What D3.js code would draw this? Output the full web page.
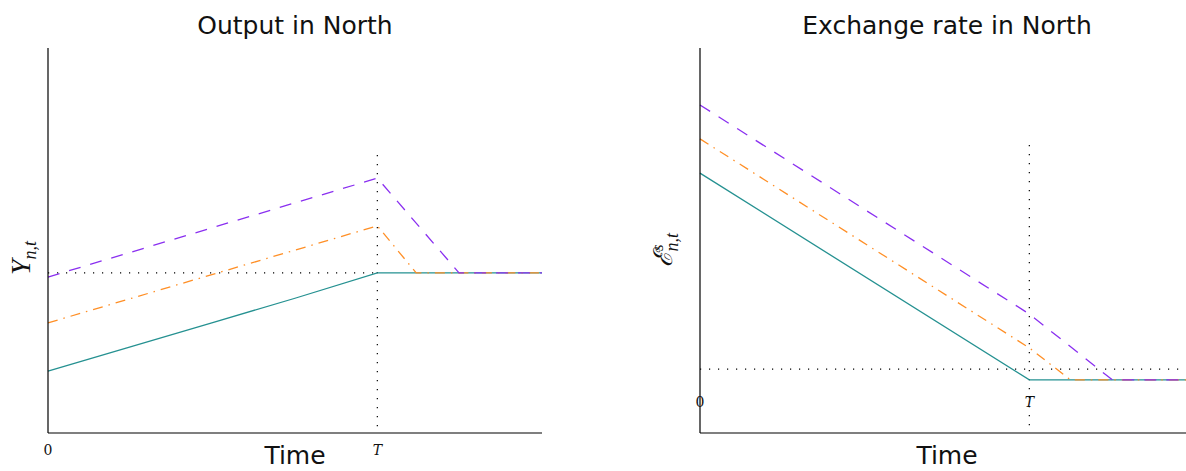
<!DOCTYPE html>
<html>
<head>
<meta charset="utf-8">
<script src="https://cdn.jsdelivr.net/npm/d3@7"></script>
<style>
  body { margin: 0; background: #fff; }
  svg { display: block; }
  .title, .xlab { font-family: 'DejaVu Sans', sans-serif; font-size: 25px; fill: #111; }
  .tick-lab { font-family: 'DejaVu Serif', serif; font-size: 14px; fill: #111; }
  .ylab { font-family: 'Liberation Serif', serif; font-style: italic; fill: #111; }
</style>
</head>
<body>
<script>
// time points (T = 1)
var timeTicks = [0, 1]
var tickLabels = ['0', 'T']

// Output in North
var outSteady = 4.16
var outTeal = [[0, 1.61], [0.25, 2.24], [0.5, 2.87], [0.75, 3.5], [1, 4.16], [1.5, 4.16]]
var outOrange = [[0, 2.86], [1, 5.38], [1.118, 4.16], [1.5, 4.16]]
var outPurple = [[0, 4.05], [1, 6.62], [1.248, 4.16], [1.5, 4.16]]

// Exchange rate in North
var exSteady = 1.66
var exTeal = [[0, 6.75], [1, 1.38], [1.5, 1.38]]
var exOrange = [[0, 7.64], [1, 2.21], [1.125, 1.38], [1.5, 1.38]]
var exPurple = [[0, 8.52], [1, 3.09], [1.252, 1.38], [1.5, 1.38]]

var colors = { teal: '#259191', orange: '#ff8f26', purple: '#8a2ff0' }

var svg = d3.select('body').append('svg')
  .attr('width', 1186)
  .attr('height', 471)

function panel (opt) {
  var x = d3.scaleLinear().domain([0, 1.5]).range([opt.left, opt.left + 494])
  var y = d3.scaleLinear().domain([0, 10]).range([433, 48])
  var g = svg.append('g')
  var line = d3.line().x(function (d) { return x(d[0]) }).y(function (d) { return y(d[1]) })

  // reference lines
  g.append('line')
    .attr('x1', x(0)).attr('x2', x(opt.hEnd))
    .attr('y1', y(opt.steady)).attr('y2', y(opt.steady))
    .attr('stroke', '#000').attr('stroke-width', 1.2)
    .attr('stroke-dasharray', '1.2,7.8')
  g.append('line')
    .attr('x1', x(1)).attr('x2', x(1))
    .attr('y1', opt.vTop).attr('y2', y(0))
    .attr('stroke', '#000').attr('stroke-width', 1.2)
    .attr('stroke-dasharray', '1.2,7.8')

  g.append('path').datum(opt.teal)
    .attr('d', line).attr('fill', 'none')
    .attr('stroke', colors.teal).attr('stroke-width', 1.3)
  g.append('path').datum(opt.orange)
    .attr('d', line).attr('fill', 'none')
    .attr('stroke', colors.orange).attr('stroke-width', 1.3)
    .attr('stroke-dasharray', '10,6,1.5,6')
  g.append('path').datum(opt.purple)
    .attr('d', line).attr('fill', 'none')
    .attr('stroke', colors.purple).attr('stroke-width', 1.3)
    .attr('stroke-dasharray', '12,10')

  // spines
  g.append('line')
    .attr('x1', x(0)).attr('x2', x(0)).attr('y1', y(10)).attr('y2', y(0))
    .attr('stroke', '#000').attr('stroke-width', 1.2)
  g.append('line')
    .attr('x1', x(0)).attr('x2', x(1.5)).attr('y1', y(0)).attr('y2', y(0))
    .attr('stroke', '#000').attr('stroke-width', 1.2)

  g.selectAll('.tick-lab').data(timeTicks).enter().append('text')
    .attr('class', 'tick-lab')
    .attr('x', function (d) { return x(d) })
    .attr('y', opt.tickY)
    .attr('text-anchor', 'middle')
    .style('font-style', function (d, i) { return i ? 'italic' : 'normal' })
    .text(function (d, i) { return tickLabels[i] })

  g.append('text').attr('class', 'title')
    .attr('x', opt.left + 247).attr('y', 34)
    .attr('text-anchor', 'middle').text(opt.title)
  g.append('text').attr('class', 'xlab')
    .attr('x', opt.left + 247).attr('y', 464)
    .attr('text-anchor', 'middle').text('Time')
  return g
}

panel({
  left: 48, title: 'Output in North', steady: outSteady, hEnd: 1, vTop: 155, tickY: 455,
  teal: outTeal, orange: outOrange, purple: outPurple
})
panel({
  left: 700, title: 'Exchange rate in North', steady: exSteady, hEnd: 1.5, vTop: 145, tickY: 407,
  teal: exTeal, orange: exOrange, purple: exPurple
})

// y labels
var yl1 = svg.append('text').attr('class', 'ylab')
  .attr('transform', 'translate(30,258) rotate(-90)')
  .attr('text-anchor', 'middle').style('font-size', '28px')
yl1.append('tspan').text('Y')
yl1.append('tspan').attr('dy', 6).style('font-size', '18px').text('n,t')

var yl2 = svg.append('text').attr('class', 'ylab')
  .attr('transform', 'translate(672,250) rotate(-90)')
  .attr('text-anchor', 'middle').style('font-size', '26px')
yl2.append('tspan').style('font-family', "'DejaVu Serif', serif").text('\u2130')
yl2.append('tspan').attr('dy', -9).style('font-size', '17px').text('s')
yl2.append('tspan').attr('dx', -7).attr('dy', 15).style('font-size', '18px').text('n,t')
</script>
</body>
</html>
